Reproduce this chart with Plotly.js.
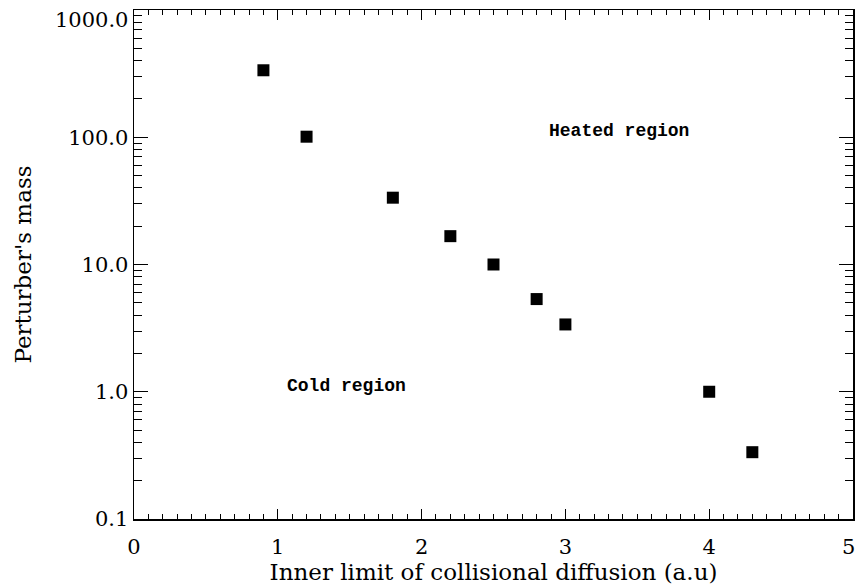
<!DOCTYPE html>
<html>
<head>
<meta charset="utf-8">
<script src="https://cdn.plot.ly/plotly-3.0.1.min.js"></script>
<style>html,body{margin:0;padding:0;background:#fff;}#chart{width:856px;height:587px;}</style>
</head>
<body>
<div id="chart"></div>
<script>
// Data
const innerLimit = [0.9, 1.2, 1.8, 2.2, 2.5, 2.8, 3.0, 4.0, 4.3];
const perturberMass = [336, 101, 33.5, 16.7, 10.0, 5.35, 3.38, 1.0, 0.335];

const xTickVals = [0, 1, 2, 3, 4, 5];
const xTickText = ['0', '1', '2', '3', '4', '5'];
const yTickVals = [0.1, 1, 10, 100, 1000];
const yTickText = ['0.1', '1.0', '10.0', '100.0', '1000.0'];

const regionLabels = ['Heated region', 'Cold region'];
const regionX = [3.37, 1.48];
const regionY = [112, 1.11];

const serif = 'DejaVu Serif, Liberation Serif, serif';

const trace = {
  x: innerLimit,
  y: perturberMass,
  type: 'scatter',
  mode: 'markers',
  marker: {symbol: 'square', size: 12, color: '#000'},
  hoverinfo: 'skip'
};

// Edge tick labels (last of each axis) are drawn as annotations so they stay inside the page
const lastX = xTickVals.length - 1;
const lastY = yTickVals.length - 1;
const xTextShown = xTickText.map((t, i) => i === lastX ? '' : t);
const yTextShown = yTickText.map((t, i) => i === lastY ? '' : t);

const annotations = regionLabels.map((t, i) => ({
  x: regionX[i], y: Math.log10(regionY[i]), xref: 'x', yref: 'y',
  text: t, showarrow: false,
  font: {family: 'Liberation Mono, DejaVu Sans Mono, monospace', size: 18, color: '#000', weight: 'bold'}
}));
annotations.push({
  x: 0, xref: 'paper', y: Math.log10(yTickVals[lastY]), yref: 'y',
  xanchor: 'right', yanchor: 'top', xshift: -4, yshift: 4,
  text: yTickText[lastY], showarrow: false,
  font: {family: serif, size: 21, color: '#000'}
});
annotations.push({
  x: xTickVals[lastX], xref: 'x', y: 0, yref: 'paper',
  xanchor: 'right', yanchor: 'top', xshift: 4, yshift: -14,
  text: xTickText[lastX], showarrow: false,
  font: {family: serif, size: 21, color: '#000'}
});

const layout = {
  width: 856, height: 587,
  margin: {l: 134, r: 3, t: 10, b: 68},
  paper_bgcolor: '#fff', plot_bgcolor: '#fff',
  showlegend: false,
  font: {family: serif, size: 21, color: '#000'},
  xaxis: {
    range: [0, 5],
    tickmode: 'array', tickvals: xTickVals, ticktext: xTextShown,
    ticks: 'inside', ticklen: 10, tickwidth: 1, tickcolor: '#000',
    minor: {dtick: 0.1, ticks: 'inside', ticklen: 5, tickwidth: 1, tickcolor: '#000', showgrid: false},
    showline: true, linecolor: '#000', linewidth: 1.5, mirror: 'ticks',
    showgrid: false, zeroline: false,
    ticklabelstandoff: 8,
    tickfont: {family: serif, size: 21},
    title: {text: 'Inner limit of collisional diffusion (a.u)', font: {family: serif, size: 23}, standoff: 4}
  },
  yaxis: {
    type: 'log',
    range: [-1, 3],
    tickmode: 'array', tickvals: yTickVals, ticktext: yTextShown,
    ticks: 'inside', ticklen: 14, tickwidth: 1, tickcolor: '#000',
    minor: {dtick: 'D1', ticks: 'inside', ticklen: 8, tickwidth: 1, tickcolor: '#000', showgrid: false},
    showline: true, linecolor: '#000', linewidth: 1.5, mirror: 'ticks',
    showgrid: false, zeroline: false,
    tickfont: {family: serif, size: 21},
    title: {text: "Perturber's mass", font: {family: serif, size: 23}, standoff: 30}
  },
  annotations: annotations
};

Plotly.newPlot('chart', [trace], layout, {displayModeBar: false, staticPlot: true});
</script>
</body>
</html>
